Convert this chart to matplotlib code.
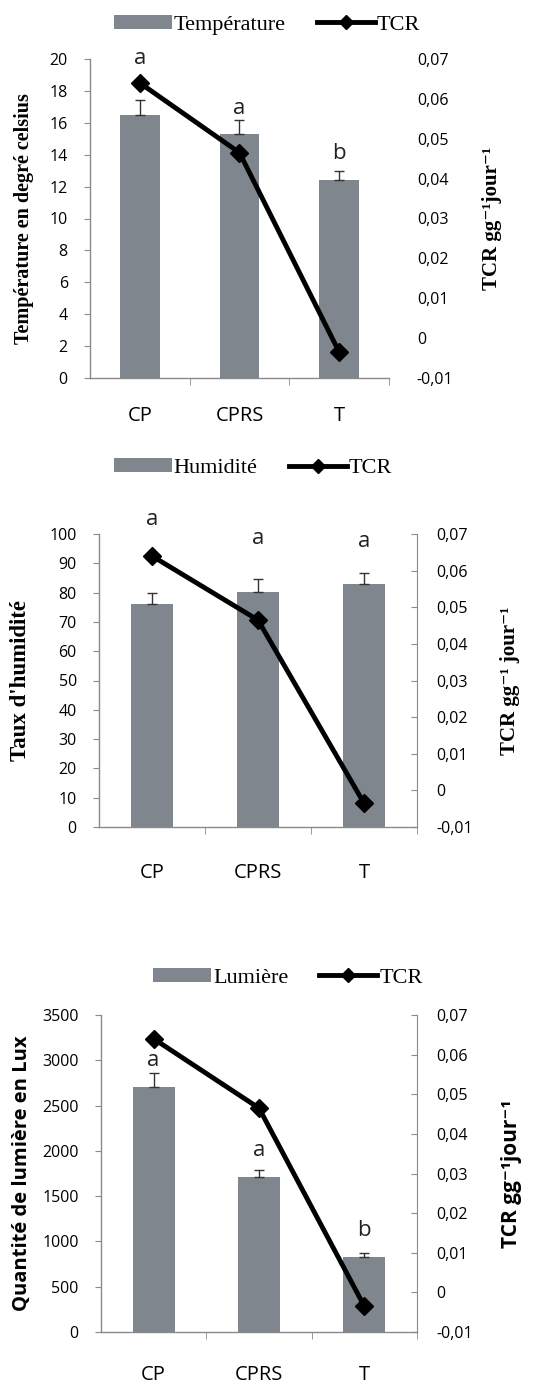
import matplotlib
matplotlib.use("Agg")
import matplotlib.pyplot as plt
from matplotlib.lines import Line2D
from matplotlib.patches import Patch
import numpy as np

# ---- data -------------------------------------------------------------
categories = ["CP", "CPRS", "T"]
tcr = [0.064, 0.0465, -0.0035]

temperature = [16.5, 15.3, 12.4]
temperature_err = [0.9, 0.9, 0.6]
temperature_letters = ["a", "a", "b"]

humidite = [76.0, 80.3, 82.9]
humidite_err = [3.8, 4.2, 3.8]
humidite_letters = ["a", "a", "a"]

lumiere = [2710, 1710, 830]
lumiere_err = [145, 80, 45]
lumiere_letters = ["a", "a", "b"]

# ---- style ------------------------------------------------------------
BAR = "#80868d"
AXC = "#8a8a8a"
SANS = ["Open Sans", "DejaVu Sans"]
SERIF = ["Liberation Serif", "DejaVu Serif"]
TICK_FS = 11.5
XT_FS = 14.5

fig = plt.figure(figsize=(5.51, 13.86), dpi=100)
W, H = 551.0, 1386.0


def px_axes(left, top, right, bottom):
    return fig.add_axes([left / W, 1 - bottom / H, (right - left) / W, (bottom - top) / H])


def panel(rect, values, errs, letters, letter_y, ylim, yticks,
          legend_name, legend_xy, ylabel, ylabel_x, ylabel_family, ylabel_fs,
          rlabel, rlabel_x, rlabel_family, right_spine, xpad):
    ax = px_axes(*rect)
    x = np.arange(len(categories))
    ax.bar(x, values, width=0.4, color=BAR, zorder=2)
    ax.errorbar(x, values, yerr=[np.zeros(len(errs)), errs], fmt="none",
                ecolor="#333333", elinewidth=1.0, capsize=3.5, capthick=1.0, zorder=3)
    for xi, lt, ly in zip(x, letters, letter_y):
        ax.text(xi, ly, lt, ha="center", va="center", fontsize=16,
                family=SANS, color="#222222", clip_on=False, zorder=5)
    ax.set_xlim(-0.5, 2.5)
    ax.set_ylim(*ylim)
    ax.set_yticks(yticks)
    ax.set_yticklabels(["%d" % v for v in yticks], family=SANS, fontsize=TICK_FS)
    ax.set_xticks(x)
    ax.set_xticklabels(categories, family=SANS, fontsize=XT_FS)
    ax.set_xticks([0.5, 1.5, 2.5], minor=True)
    ax.tick_params(axis="x", which="major", length=0, pad=xpad)
    ax.tick_params(axis="x", which="minor", length=5, color=AXC, direction="out")
    ax.tick_params(axis="y", length=4, color=AXC, direction="out", pad=12)
    for s in ("top", "right"):
        ax.spines[s].set_visible(False)
    for s in ("left", "bottom"):
        ax.spines[s].set_color(AXC)
        ax.spines[s].set_linewidth(1.0)

    ax2 = ax.twinx()
    ax2.plot(x, tcr, color="black", lw=3.5, marker="D", markersize=9.5,
             markerfacecolor="black", zorder=4, clip_on=False)
    ax2.set_ylim(-0.01, 0.07)
    rt = [-0.01, 0.0, 0.01, 0.02, 0.03, 0.04, 0.05, 0.06, 0.07]
    ax2.set_yticks(rt)
    ax2.set_yticklabels([("%.2f" % v).replace(".", ",") if v != 0 else "0" for v in rt],
                        family=SANS, fontsize=TICK_FS)
    for s in ("top", "left", "bottom"):
        ax2.spines[s].set_visible(False)
    if right_spine:
        ax2.spines["right"].set_color(AXC)
        ax2.tick_params(axis="y", length=4, color=AXC, direction="in", pad=14)
    else:
        ax2.spines["right"].set_visible(False)
        ax2.tick_params(axis="y", length=0, pad=20)

    handles = [Patch(facecolor=BAR, edgecolor="none", label=legend_name),
               Line2D([], [], color="black", lw=3.5, marker="D", markersize=7,
                      label="TCR")]
    fig.legend(handles=handles, loc="center", bbox_to_anchor=(legend_xy[0] / W, 1 - legend_xy[1] / H),
               ncol=2, frameon=False, prop={"family": SERIF, "size": 16},
               handlelength=2.6, handleheight=0.6, handletextpad=0.1, columnspacing=1.4)

    yc = (rect[1] + rect[3]) / 2
    fig.text(ylabel_x / W, 1 - yc / H, ylabel, rotation=90, ha="center", va="center",
             family=ylabel_family, fontweight="bold", fontsize=ylabel_fs)
    fig.text(rlabel_x / W, 1 - yc / H, rlabel, rotation=90, ha="center", va="center",
             family=rlabel_family, fontweight="bold", fontsize=15)
    return ax


panel((90, 59, 389, 378), temperature, temperature_err, temperature_letters,
      [20.0, 16.9, 14.1], (0, 20), list(range(0, 21, 2)),
      "Température", (267, 25), "Température en degré celsius", 24, SERIF, 14.5,
      "TCR gg\u207b\u00b9jour\u207b\u00b9", 492, SERIF, False, 20)

panel((99, 534, 417, 827), humidite, humidite_err, humidite_letters,
      [104.8, 98.3, 97.3], (0, 100), list(range(0, 101, 10)),
      "Humidité", (253, 468), "Taux d'humidité", 21, SERIF, 16.5,
      "TCR gg\u207b\u00b9 jour\u207b\u00b9", 510, SERIF, True, 26)

panel((101, 1015, 417, 1332), lumiere, lumiere_err, lumiere_letters,
      [3003, 2009, 1126], (0, 3500), list(range(0, 3501, 500)),
      "Lumière", (288, 978), "Quantité de lumière en Lux", 22, SANS, 14.5,
      "TCR gg\u207b\u00b9jour\u207b\u00b9", 512, SANS, True, 24)

fig.savefig("out.png", dpi=100)
